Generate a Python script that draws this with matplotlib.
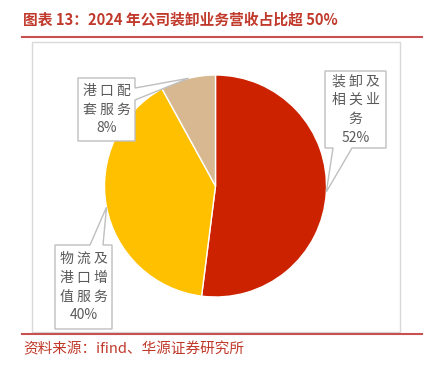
import numpy as np
import matplotlib.pyplot as plt
from matplotlib.patches import Rectangle, Polygon
from matplotlib.lines import Line2D

plt.rcParams['font.family'] = ['Noto Sans CJK SC', 'DejaVu Sans']

# 数据
labels = ["装 卸 及\n相 关 业\n务", "物 流 及\n港 口 增\n值 服 务", "港 口 配\n套 服 务"]
shares = [52, 40, 8]
colors = ["#CC2200", "#FFC000", "#D8B890"]

# 标注框（像素：左, 上, 右, 下）、缺口所在边及范围、指向角度
boxes = [(325, 71, 386, 148), (55, 245, 112, 329), (78, 78, 135, 141)]
notches = [('bottom', 333, 352), ('top', 90, 103), ('right', 88, 100)]
tip_angle = [-3, 191, 104]

W, H = 426, 365
fig = plt.figure(figsize=(W / 100, H / 100), dpi=100)


def fx(x):
    return x / W


def fy(y):
    return 1 - y / H


# 标题与红线
fig.text(fx(23), fy(20), "图表 13：2024 年公司装卸业务营收占比超 50%",
         fontsize=10.6, fontweight='bold', color="#C0392B", va='center', ha='left')
fig.add_artist(Line2D([fx(22), fx(422)], [fy(37), fy(37)], color="#C85050", lw=1.5))
fig.add_artist(Line2D([fx(22), fx(422)], [fy(334), fy(334)], color="#C85050", lw=1.5))
fig.text(fx(23), fy(349), "资料来源：ifind、华源证券研究所",
         fontsize=10.5, color="#C0392B", va='center', ha='left')

# 灰色外框
fig.add_artist(Rectangle((fx(32), fy(332)), fx(400) - fx(32), fy(42) - fy(332),
                         transform=fig.transFigure, fill=False, ec="#D9D9D9", lw=1))

# 饼图
cx, cy, r = 215.5, 186, 111
ax = fig.add_axes([fx(cx - r), fy(cy + r), 2 * r / W, 2 * r / H])
ax.pie(shares, colors=colors, startangle=90, counterclock=False,
       wedgeprops=dict(edgecolor='white', linewidth=1))
ax.set_xlim(-1, 1)
ax.set_ylim(-1, 1)
ax.set_aspect('auto')
ax.axis('off')

# 标注框（带指向缺口）
for lab, val, (l, t, rr, b), (side, n1, n2), ang in zip(labels, shares, boxes, notches, tip_angle):
    a = np.deg2rad(ang)
    tip = (cx + r * np.cos(a), cy - r * np.sin(a))
    if side == 'bottom':
        pts = [(l, t), (rr, t), (rr, b), (n2, b), tip, (n1, b), (l, b)]
    elif side == 'top':
        pts = [(l, t), (n1, t), tip, (n2, t), (rr, t), (rr, b), (l, b)]
    else:
        pts = [(l, t), (rr, t), (rr, n1), tip, (rr, n2), (rr, b), (l, b)]
    pts = [(fx(x), fy(y)) for x, y in pts]
    fig.add_artist(Polygon(pts, closed=True, transform=fig.transFigure,
                           fc='white', ec="#BFBFBF", lw=1, zorder=3))
    fig.text(fx((l + rr) / 2), fy((t + b) / 2), f"{lab}\n{val}%",
             ha='center', va='center', fontsize=10, color="#595959",
             linespacing=1.45, zorder=4)

fig.savefig("out.png", dpi=100)
